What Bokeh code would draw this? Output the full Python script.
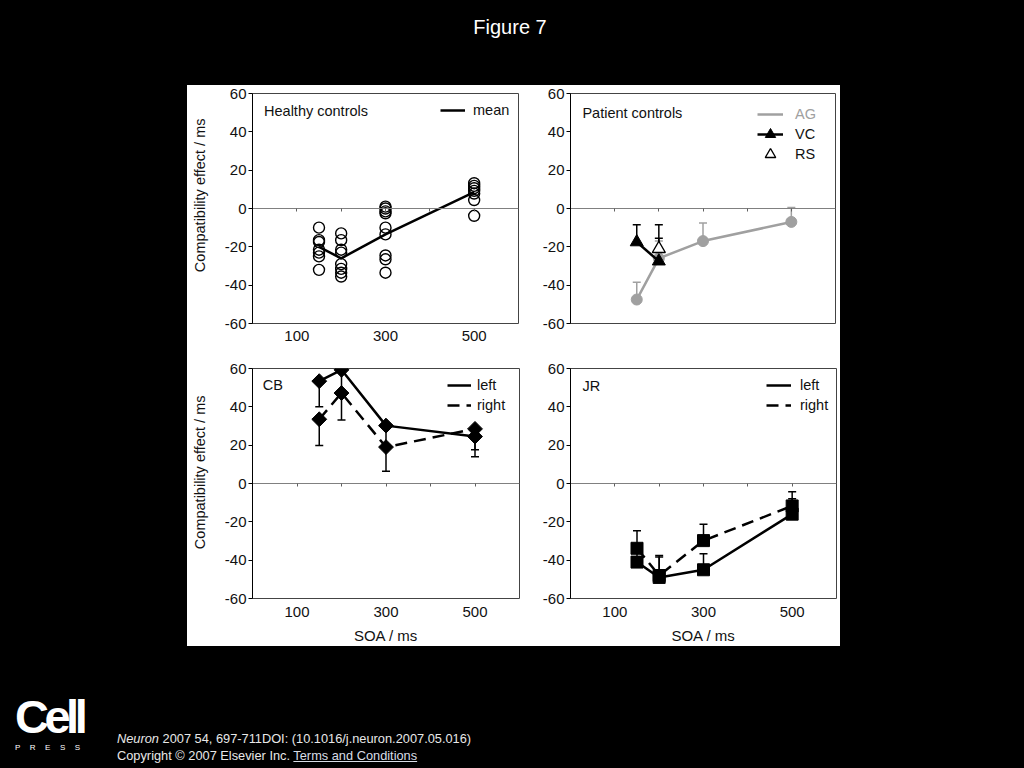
import numpy as np
from bokeh.plotting import figure
from bokeh.models import (Range1d, LinearAxis, FixedTicker, Label, Legend, LegendItem, Title,
                          Whisker, TeeHead, ColumnDataSource, Div, Spacer, CustomJSTickFormatter)
from bokeh.layouts import column, row
from bokeh.embed import file_html
from bokeh.resources import INLINE

# ---------------- data ----------------
soa_labels = [100, 300, 500]
soa_ticks = [100, 200, 300, 400, 500]
y_ticks = [-60, -40, -20, 0, 20, 40, 60]

# Healthy controls: individual subjects per SOA
healthy_150 = [-10, -16.5, -17.5, -21.5, -23, -25, -32]
healthy_200 = [-13, -16.5, -21.5, -23, -29, -31.5, -33.5, -35.5]
healthy_300 = [1, 0, -1.5, -2.5, -10, -13.5, -24.5, -26.5, -33.5]
healthy_500 = [13.2, 11.8, 10.6, 9.2, 7.8, 4.4, -3.8]
mean_soa = [150, 200, 300, 500]
healthy_mean = [-20, -26, -13.5, 8.5]

# Patient controls
ag_soa = [150, 200, 300, 500]
ag_val = [-47.5, -26, -17, -7]
ag_upper = [-38.5, -17, -7.5, 0.5]
vc_soa = [150, 200]
vc_val = [-17.5, -27.5]
vc_upper = [-8.5, -8.5]
rs_soa = [200]
rs_val = [-21]
rs_upper = [-15.5]

# CB
cb_soa = [150, 200, 300, 500]
cb_left = [53.4, 59.3, 30.2, 24.5]
cb_left_lower = [40, 46, 18, 14]
cb_right = [33.5, 47.2, 19, 28.5]
cb_right_lower = [19.8, 33.1, 6.4, 17.6]

# JR
jr_soa = [150, 200, 300, 500]
jr_left = [-41, -49, -45, -16]
jr_left_upper = [-36, -38.4, -36.7, -8]
jr_right = [-33.8, -48, -29.8, -11.7]
jr_right_upper = [-24.7, -37.6, -21.2, -4.3]

FONT = "Liberation Sans"
TXT = "#111111"
GREY = "#a0a0a0"
DASH = "12 7"
YTITLE = "Compatibility effect / ms"
GAP_TICK = [0]


def make_panel(width, height, left, right, top, bottom, xlabels=True, xtitle=None, ytitle=None,
               ytitle_offset=25):
    p = figure(width=width, height=height, x_range=Range1d(0, 600), y_range=Range1d(-60, 60),
               output_backend="svg", toolbar_location=None, x_axis_location=None,
               y_axis_location=None, min_border_left=left, min_border_right=right,
               min_border_top=top, min_border_bottom=bottom)
    p.background_fill_color = "white"
    p.border_fill_color = "white"
    p.outline_line_color = "#444444"
    p.outline_line_width = 1
    p.xgrid.visible = False
    p.ygrid.visible = False

    ya = LinearAxis(ticker=FixedTicker(ticks=y_ticks),
                    formatter=CustomJSTickFormatter(code="return String(tick)"))
    ya.major_tick_out = 4
    ya.major_tick_in = 0
    ya.minor_tick_line_color = None
    ya.axis_line_color = "black"
    ya.major_tick_line_color = "black"
    ya.major_label_text_font = FONT
    ya.major_label_text_font_size = "15px"
    ya.major_label_text_color = TXT
    ya.major_label_standoff = 2
    p.add_layout(ya, "left")
    if ytitle:
        # invisible spacer axis, then the rotated title placed toward the top of the frame
        gap = LinearAxis(ticker=FixedTicker(ticks=GAP_TICK), major_tick_out=13, major_tick_in=0,
                         major_tick_line_color=None, minor_tick_line_color=None,
                         axis_line_color=None, major_label_text_font_size="0px",
                         major_label_text_color=None, major_label_standoff=0)
        p.add_layout(gap, "left")
        p.add_layout(Title(text=ytitle, align="right", offset=ytitle_offset, standoff=2,
                           text_font=FONT, text_font_size="14.5px", text_font_style="normal",
                           text_color=TXT), "left")

    if xlabels:
        xa = LinearAxis(ticker=FixedTicker(ticks=soa_labels))
        xa.major_tick_line_color = None
        xa.minor_tick_line_color = None
        xa.axis_line_color = None
        xa.major_label_text_font = FONT
        xa.major_label_text_font_size = "15px"
        xa.major_label_text_color = TXT
        xa.major_label_standoff = 1 if xtitle is None else 2
        if xtitle:
            xa.axis_label = xtitle
            xa.axis_label_text_font = FONT
            xa.axis_label_text_font_size = "15px"
            xa.axis_label_text_font_style = "normal"
            xa.axis_label_text_color = TXT
            xa.axis_label_standoff = 7
        p.add_layout(xa, "below")

    # zero line with small ticks
    za = LinearAxis(ticker=FixedTicker(ticks=soa_ticks), fixed_location=0)
    za.axis_line_color = "#808080"
    za.axis_line_width = 1
    za.major_tick_line_color = "#606060"
    za.major_tick_out = 3
    za.major_tick_in = 0
    za.minor_tick_line_color = None
    za.major_label_text_font_size = "0px"
    za.major_label_text_color = None
    p.add_layout(za, "below")
    return p


def add_legend(p, items, loc, color=TXT, gw=25, gh=20, standoff=8):
    lg = Legend(items=items, location=loc, padding=0, margin=0, spacing=0,
                glyph_width=gw, glyph_height=gh, label_height=20, label_width=20,
                label_standoff=standoff, border_line_color=None, background_fill_alpha=0,
                label_text_font=FONT, label_text_font_size="14.5px", label_text_color=color)
    p.add_layout(lg)
    return lg


def title_label(p, text, x, y):
    p.add_layout(Label(x=x, y=y, text=text, text_font=FONT, text_font_size="14.5px",
                       text_color=TXT, text_baseline="middle", text_align="left"))


# ---------------- Healthy controls ----------------
tl = make_panel(345, 265, 65, 14, 8, 27, xlabels=True, ytitle=YTITLE, ytitle_offset=25)
for soa, vals in [(150, healthy_150), (200, healthy_200), (300, healthy_300), (500, healthy_500)]:
    tl.scatter([soa] * len(vals), vals, marker="circle", size=11, fill_alpha=0,
               line_color="black", line_width=1.4)
mean_r = tl.line(mean_soa, healthy_mean, line_color="black", line_width=2.5)
title_label(tl, "Healthy controls", 26, 51)
add_legend(tl, [LegendItem(label="mean", renderers=[mean_r])], (188, 203), gw=25, standoff=8)

# ---------------- Patient controls ----------------
tr = make_panel(308, 265, 38, 5, 8, 27, xlabels=False)
ag_src = ColumnDataSource(dict(x=ag_soa, y=ag_val, up=ag_upper))
vc_src = ColumnDataSource(dict(x=vc_soa, y=vc_val, up=vc_upper))
rs_src = ColumnDataSource(dict(x=rs_soa, y=rs_val, up=rs_upper))
for src, col in [(ag_src, GREY), (vc_src, "black"), (rs_src, "black")]:
    w = Whisker(base="x", lower="y", upper="up", source=src, line_color=col, line_width=1.5,
                upper_head=TeeHead(size=8, line_color=col, line_width=1.5), lower_head=None,
                level="underlay")
    tr.add_layout(w)
ag_line = tr.line("x", "y", source=ag_src, line_color=GREY, line_width=2.5)
tr.scatter("x", "y", source=ag_src, marker="circle", size=11, fill_color=GREY, line_color=GREY)
vc_line = tr.line("x", "y", source=vc_src, line_color="black", line_width=2.5)
vc_pts = tr.scatter("x", "y", source=vc_src, marker="triangle", size=13, fill_color="black",
                    line_color="black")
rs_pts = tr.scatter("x", "y", source=rs_src, marker="triangle", size=13, fill_color="white",
                    line_color="black", line_width=1.4)
title_label(tr, "Patient controls", 27, 49.6)
add_legend(tr, [LegendItem(label="AG", renderers=[ag_line])], (187, 196), color=GREY,
           gw=26, gh=26, standoff=12)
add_legend(tr, [LegendItem(label="VC", renderers=[vc_line, vc_pts])], (187, 176),
           gw=26, gh=26, standoff=12)
add_legend(tr, [LegendItem(label="RS", renderers=[rs_pts])], (187, 156),
           gw=26, gh=26, standoff=12)

# ---------------- CB ----------------
bl = make_panel(345, 296, 65, 13, 18, 46, xlabels=True, xtitle="SOA / ms", ytitle=YTITLE,
                ytitle_offset=27)
cbl_src = ColumnDataSource(dict(x=cb_soa, y=cb_left, lo=cb_left_lower))
cbr_src = ColumnDataSource(dict(x=cb_soa, y=cb_right, lo=cb_right_lower))
for src in (cbl_src, cbr_src):
    bl.add_layout(Whisker(base="x", lower="lo", upper="y", source=src, line_color="black",
                          line_width=1.5, lower_head=TeeHead(size=8, line_color="black", line_width=1.5),
                          upper_head=None, level="underlay"))
cbr_line = bl.line("x", "y", source=cbr_src, line_color="black", line_width=2.5, line_dash=DASH)
cbl_line = bl.line("x", "y", source=cbl_src, line_color="black", line_width=2.5)
for src in (cbr_src, cbl_src):
    bl.scatter("x", "y", source=src, marker="square", angle=np.pi / 4, size=10.5,
               fill_color="black", line_color="black")
title_label(bl, "CB", 23, 51.2)
add_legend(bl, [LegendItem(label="left", renderers=[cbl_line]),
                LegendItem(label="right", renderers=[cbr_line])], (195, 183), gw=24, standoff=6)

# ---------------- JR ----------------
br = make_panel(308, 296, 38, 4, 18, 46, xlabels=True, xtitle="SOA / ms")
jrl_src = ColumnDataSource(dict(x=jr_soa, y=jr_left, up=jr_left_upper))
jrr_src = ColumnDataSource(dict(x=jr_soa, y=jr_right, up=jr_right_upper))
for src in (jrl_src, jrr_src):
    br.add_layout(Whisker(base="x", lower="y", upper="up", source=src, line_color="black",
                          line_width=1.5, upper_head=TeeHead(size=8, line_color="black", line_width=1.5),
                          lower_head=None, level="underlay"))
jrr_line = br.line("x", "y", source=jrr_src, line_color="black", line_width=2.5, line_dash=DASH)
jrl_line = br.line("x", "y", source=jrl_src, line_color="black", line_width=2.5)
for src in (jrr_src, jrl_src):
    br.scatter("x", "y", source=src, marker="square", size=12, fill_color="black",
               line_color="black")
title_label(br, "JR", 27, 51)
add_legend(br, [LegendItem(label="left", renderers=[jrl_line]),
                LegendItem(label="right", renderers=[jrr_line])], (196, 183), gw=25, standoff=9)

# ---------------- page ----------------
title_div = Div(text=f"<div style=\"width:1020px;text-align:center;color:white;font-family:'{FONT}';"
                     "font-size:20px;line-height:24px;padding-top:15px;\">Figure 7</div>",
                width=1024, height=85, margin=0)

panels = column(row(tl, tr), row(bl, br), styles={"background-color": "white"})

logo = Div(text=f"<div style=\"padding-left:15px;padding-top:47px;color:white;font-family:'{FONT}';\">"
                "<div style=\"font-size:47px;font-weight:bold;letter-spacing:-4.5px;line-height:48px;\">Cell</div>"
                "<div style=\"font-size:8px;letter-spacing:9.5px;line-height:10px;padding-top:2px;\">PRESS</div></div>",
           width=110, height=117, margin=0)
cite = Div(text=f"<div style=\"padding-left:7px;padding-top:84px;color:#e8e8e8;font-family:'{FONT}';"
                "font-size:12.8px;line-height:17px;white-space:nowrap;\">"
                "<div><i>Neuron</i> 2007 54, 697-711DOI: (10.1016/j.neuron.2007.05.016)</div>"
                "<div>Copyright © 2007 Elsevier Inc. <span style=\"text-decoration:underline;color:#d8dde6;\">"
                "Terms and Conditions</span></div></div>",
           width=500, height=117, margin=0)

root = column(title_div, row(Spacer(width=187, height=561), panels), row(logo, cite),
              styles={"background-color": "#000000"})

html = file_html(root, INLINE, title="Figure 7")
i = html.rfind("<body")
if i >= 0:
    html = html[:i] + '<body style="background-color:#000000;"' + html[i + 5:]
open("out.html", "w").write(html)
